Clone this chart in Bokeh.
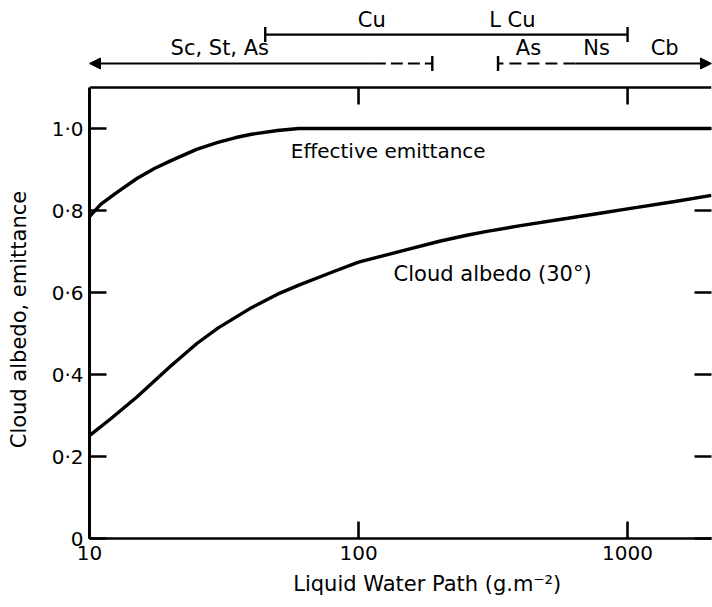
from bokeh.plotting import figure
from bokeh.models import (Range1d, FixedTicker, LinearAxis, CustomJSTickFormatter,
                          Arrow, NormalHead, TeeHead, Label, Span)
from bokeh.embed import file_html
from bokeh.resources import INLINE

# Liquid water path (g m^-2) and the two curves
lwp_emit = [10, 11, 12.5, 15, 17.5, 20, 25, 30, 35, 40, 50, 60, 100, 300, 1000, 2050]
emittance = [0.785, 0.815, 0.842, 0.878, 0.903, 0.921, 0.949, 0.966, 0.978, 0.986,
             0.995, 1.0, 1.0, 1.0, 1.0, 1.0]

lwp_alb = [10, 12, 15, 20, 25, 30, 40, 50, 60, 80, 100, 150, 200, 250, 300, 400, 600, 800,
           1000, 1500, 2050]
albedo = [0.251, 0.292, 0.345, 0.42, 0.475, 0.513, 0.563, 0.596, 0.618, 0.65, 0.674,
          0.704, 0.725, 0.739, 0.749, 0.763, 0.781, 0.794, 0.804, 0.822, 0.837]

x_ticks = [10, 100, 1000]
y_ticks = [0, 0.2, 0.4, 0.6, 0.8, 1.0]
y_max = 1.1

# Cloud-type ranges along the LWP axis
cu_range = [45, 1000]
sc_solid = [10, 114]
sc_dashed = [114, 188]
as_dashed = [330, 640]
cb_solid = [640, 2050]

# Cloud-type names and their LWP positions
type_names = ["Sc, St, As", "Cu", "L Cu", "As", "Ns", "Cb"]
type_x = [30.5, 112, 373, 428, 767, 1374]
type_row = [2, 1, 1, 2, 2, 2]

FONT = "DejaVu Sans"
PX = 1 / 410.0                      # one screen pixel in y-data units
row_y = {1: 1.229, 2: 1.1585}
row_text_y = {1: 1.236, 2: 1.168}
NB = "\u00a0"

# the frame runs up to the top of the page so the cloud-type bars can sit above the box
p = figure(width=712, height=607, x_axis_type="log", output_backend="svg",
           toolbar_location=None, x_range=Range1d(10, 2051),
           y_range=Range1d(0, y_max + 87 * PX),
           min_border_left=89, min_border_right=1, min_border_top=0, min_border_bottom=69)
p.outline_line_color = None
p.grid.visible = False
p.background_fill_color = "white"
p.border_fill_color = "white"

xfmt = CustomJSTickFormatter(code="return tick.toFixed(0);")
yfmt = CustomJSTickFormatter(code="return tick === 0 ? '0' : tick.toFixed(1).replace('.', '\u00b7');")
blank = CustomJSTickFormatter(code="return '';")


def style(ax, labels=True, width=2.6):
    ax.axis_line_width = width
    ax.axis_line_color = "black"
    ax.major_tick_line_width = 2.6
    ax.major_tick_line_color = "black"
    ax.major_tick_in = 17
    ax.major_tick_out = 0
    ax.minor_tick_line_color = None
    if labels:
        ax.major_label_text_font = FONT
        ax.major_label_text_font_size = "20px"
        ax.major_label_text_color = "black"
    else:
        ax.formatter = blank
        ax.major_label_standoff = 0


xb = p.xaxis[0]
xb.ticker = FixedTicker(ticks=x_ticks)
xb.formatter = xfmt
style(xb)
xb.major_label_standoff = 7
xb.axis_label = NB * 8 + "Liquid Water Path (g.m\u207b\u00b2)"
xb.axis_label_text_font = FONT
xb.axis_label_text_font_size = "21px"
xb.axis_label_text_font_style = "normal"
xb.axis_label_text_color = "black"
xb.axis_label_standoff = 9

yl = p.yaxis[0]
yl.ticker = FixedTicker(ticks=y_ticks)
yl.formatter = yfmt
yl.bounds = (0, y_max)
style(yl, width=3)
yl.major_label_standoff = 6
yl.axis_label = "Cloud albedo,  emittance" + NB * 14
yl.axis_label_text_font = FONT
yl.axis_label_text_font_size = "21px"
yl.axis_label_text_font_style = "normal"
yl.axis_label_text_color = "black"
yl.axis_label_standoff = 18

right = LinearAxis(ticker=FixedTicker(ticks=y_ticks))
style(right, labels=False)
right.axis_line_color = None
p.add_layout(right, "right")

# top edge of the box and its inward ticks
p.add_layout(Span(location=y_max, dimension="width", line_color="black", line_width=2.6))
p.segment(x0=x_ticks[1:], y0=[y_max] * 2, x1=x_ticks[1:], y1=[y_max - 17 * PX] * 2,
          line_color="black", line_width=2.6)

# curves
p.line(lwp_emit, emittance, line_width=3.4, line_color="black")
p.line(lwp_alb, albedo, line_width=3.4, line_color="black")

p.add_layout(Label(x=56, y=0.915, text="Effective emittance", text_font=FONT,
                   text_font_size="20px", text_color="black"))
p.add_layout(Label(x=135, y=0.617, text="Cloud  albedo  (30\u00b0)", text_font=FONT,
                   text_font_size="21px", text_color="black"))


# cloud-type ranges above the box
def tee():
    return TeeHead(size=15, line_width=2.4, line_color="black")


def head():
    return NormalHead(size=11, fill_color="black", line_color="black", line_width=1)


p.add_layout(Arrow(x_start=cu_range[0], x_end=cu_range[1], y_start=row_y[1], y_end=row_y[1],
                   start=tee(), end=tee(), line_width=2.2, line_color="black"))
p.add_layout(Arrow(x_start=sc_solid[1], x_end=sc_solid[0], y_start=row_y[2], y_end=row_y[2],
                   end=head(), line_width=2.2, line_color="black"))
p.add_layout(Arrow(x_start=sc_dashed[0], x_end=sc_dashed[1], y_start=row_y[2], y_end=row_y[2],
                   end=tee(), line_width=2.2, line_color="black", line_dash="12 5"))
p.add_layout(Arrow(x_start=as_dashed[1], x_end=as_dashed[0], y_start=row_y[2], y_end=row_y[2],
                   end=tee(), line_width=2.2, line_color="black", line_dash="12 6"))
p.add_layout(Arrow(x_start=cb_solid[0], x_end=cb_solid[1], y_start=row_y[2], y_end=row_y[2],
                   end=head(), line_width=2.2, line_color="black"))

for name, x, row in zip(type_names, type_x, type_row):
    p.add_layout(Label(x=x, y=row_text_y[row], text=name, text_align="center",
                       text_font=FONT, text_font_size="21px", text_color="black"))

open("out.html", "w").write(file_html(p, INLINE))
